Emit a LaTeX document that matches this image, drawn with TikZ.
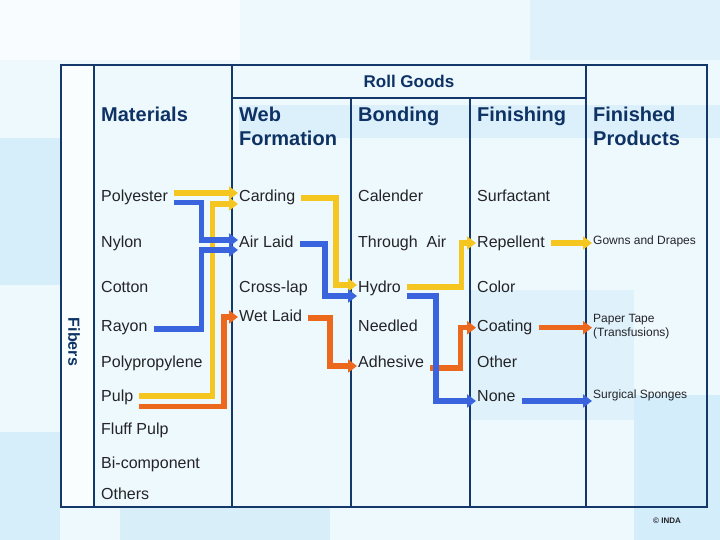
\documentclass[tikz,border=0pt]{standalone}
\usepackage{fontspec}
\setmainfont{Liberation Sans}
\usetikzlibrary{arrows.meta}
\definecolor{gridnavy}{RGB}{20,56,105}
\definecolor{headnavy}{RGB}{14,50,100}
\definecolor{txtgray}{RGB}{36,36,40}
\definecolor{flowyellow}{RGB}{246,198,32}
\definecolor{flowblue}{RGB}{58,100,222}
\definecolor{floworange}{RGB}{236,104,28}
\definecolor{paper}{RGB}{238,249,254}
\definecolor{patch}{RGB}{196,230,248}

\begin{document}
\begin{tikzpicture}[x=1pt, y=-1pt, >={Triangle[length=9pt,width=13pt]},
	grid/.style={draw=gridnavy, line width=2.8pt},
	item/.style={anchor=west, inner sep=0pt, text height=11.5pt, text depth=0pt, font=\fontsize{16}{19}\selectfont, text=txtgray},
	head/.style={anchor=north west, inner sep=0pt, align=left, font=\fontsize{20}{24}\selectfont\bfseries, text=headnavy},
	tiny/.style={anchor=west, inner sep=0pt, text height=8.6pt, text depth=0pt, font=\fontsize{12}{14.5}\selectfont, text=txtgray},
	tinybox/.style={anchor=north west, inner sep=0pt, align=left, font=\fontsize{12}{14.5}\selectfont, text=txtgray},
	link/.style={->, line width=5.5pt, shorten <=6pt, shorten >=1pt},
	yel/.style={link, draw=flowyellow},
	blu/.style={link, draw=flowblue},
	org/.style={link, draw=floworange}]

	\useasboundingbox (0,0) rectangle (720,540);
	\fill[paper] (0,0) rectangle (720,540);
	\fill[white, opacity=.6] (0,0) rectangle (240,60);
	\fill[patch, opacity=.35] (530,0) rectangle (720,60);
	\fill[patch, opacity=.55] (0,138) rectangle (60,285);
	\fill[patch, opacity=.55] (0,432) rectangle (60,540);
	\fill[patch, opacity=.45] (239,105) rectangle (720,138);
	\fill[patch, opacity=.6] (634,395) rectangle (720,540);
	\fill[patch, opacity=.5] (120,507) rectangle (330,540);
	\fill[patch, opacity=.35] (470,290) rectangle (634,420);
	\fill[white, opacity=.7] (61,65) rectangle (94,507);

	\draw[grid] (61,65) rectangle (707,507);
	\draw[grid] (94,65) -- (94,507);
	\draw[grid] (232,65) -- (232,507);
	\draw[grid] (586,65) -- (586,507);
	\draw[grid] (232,98) -- (586,98);
	\draw[grid] (351,98) -- (351,507);
	\draw[grid] (470,98) -- (470,507);

	\node[inner sep=0pt, font=\fontsize{17}{20}\selectfont\bfseries, text=headnavy] (roll) at (409,81) {Roll Goods};
	\node[inner sep=0pt, rotate=-90, font=\fontsize{16}{19}\selectfont\bfseries, text=headnavy] (fibers) at (74,342) {Fibers};

	\node[head] (hmat) at (101,107) {Materials};
	\node[head] (hweb) at (239,107) {Web\\Formation};
	\node[head] (hbond) at (358,107) {Bonding};
	\node[head] (hfin) at (477,107) {Finishing};
	\node[head] (hprod) at (593,107) {Finished\\Products};

	\node[item] (poly) at (101,196) {Polyester};
	\node[item] (nyl) at (101,242) {Nylon};
	\node[item] (cot) at (101,287) {Cotton};
	\node[item] (ray) at (101,326) {Rayon};
	\node[item] (pp) at (101,362) {Polypropylene};
	\node[item] (pulp) at (101,396) {Pulp};
	\node[item] (fluff) at (101,429) {Fluff Pulp};
	\node[item] (bico) at (101,463) {Bi-component};
	\node[item] (oth) at (101,494) {Others};

	\node[item] (card) at (239,196) {Carding};
	\node[item] (air) at (239,242) {Air Laid};
	\node[item] (cross) at (239,287) {Cross-lap};
	\node[item] (wet) at (239,316) {Wet Laid};

	\node[item] (cal) at (358,196) {Calender};
	\node[item] (thair) at (358,242) {Through\ \ Air};
	\node[item] (hyd) at (358,287) {Hydro};
	\node[item] (need) at (358,326) {Needled};
	\node[item] (adh) at (358,362) {Adhesive};

	\node[item] (surf) at (477,196) {Surfactant};
	\node[item] (rep) at (477,242) {Repellent};
	\node[item] (col) at (477,287) {Color};
	\node[item] (coat) at (477,326) {Coating};
	\node[item] (othr) at (477,362) {Other};
	\node[item] (none) at (477,396) {None};

	\node[tiny] (gown) at (593,240) {Gowns and Drapes};
	\node[tinybox] (tape) at (593,314) {Paper Tape\\(Transfusions)};
	\node[tiny] (sponge) at (593,394) {Surgical Sponges};

	\node[inner sep=0pt, font=\fontsize{8}{9}\selectfont\bfseries, text=txtgray] (inda) at (667,521) {\textcopyright\ INDA};

	\draw[yel] ([yshift=3pt]poly.east) -- ([yshift=3pt]card.west);
	\draw[yel] (pulp.east) -| ([xshift=-26.3pt,yshift=-8pt]card.west) -- ([yshift=-8pt]card.west);
	\draw[org] ([yshift=-10.7pt]pulp.east) -| ([xshift=-15pt,yshift=-1pt]wet.west) -- ([yshift=-1pt]wet.west);
	\draw[blu] ([yshift=-6.7pt]poly.east) -| ([xshift=-37.3pt,yshift=2pt]air.west) -- ([yshift=2pt]air.west);
	\draw[blu] ([yshift=-3pt]ray.east) -| ([xshift=-37.3pt,yshift=-8pt]air.west) -- ([yshift=-8pt]air.west);

	\draw[yel] ([yshift=-2pt]card.east) -| ([xshift=-22pt,yshift=2pt]hyd.west) -- ([yshift=2pt]hyd.west);
	\draw[blu] ([yshift=-2pt]air.east) -| ([xshift=-33pt,yshift=-9pt]hyd.west) -- ([yshift=-9pt]hyd.west);
	\draw[org] ([yshift=-2pt]wet.east) -| ([xshift=-28pt,yshift=-4pt]adh.west) -- ([yshift=-4pt]adh.west);

	\draw[yel] (hyd.east) -| ([xshift=-15.3pt,yshift=-1pt]rep.west) -- ([yshift=-1pt]rep.west);
	\draw[org] ([yshift=-6pt]adh.east) -| ([xshift=-16.3pt,yshift=-1.7pt]coat.west) -- ([yshift=-1.7pt]coat.west);
	\draw[blu] ([yshift=-9pt]hyd.east) -| ([xshift=-41pt,yshift=-5pt]none.west) -- ([yshift=-5pt]none.west);

	\draw[yel] ([yshift=-1pt]rep.east) -- ([yshift=-1pt]rep.east -| gown.west);
	\draw[org] ([yshift=-1.7pt]coat.east) -- ([yshift=-1.7pt]coat.east -| tape.west);
	\draw[blu] ([yshift=-5pt]none.east) -- ([yshift=-5pt]none.east -| sponge.west);
\end{tikzpicture}
\end{document}
